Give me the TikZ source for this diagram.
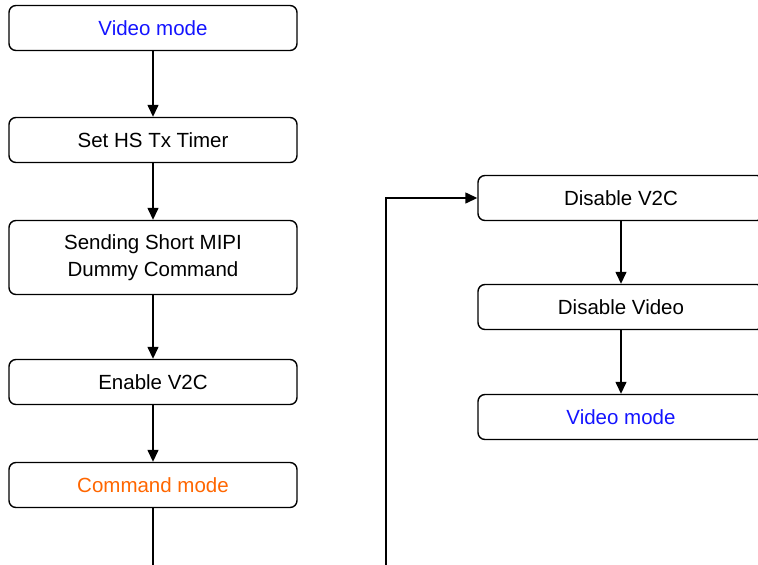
\documentclass[tikz,border=0pt]{standalone}
\usepackage{fontspec}
\setmainfont{Liberation Sans}
\usepackage{xcolor}
\usetikzlibrary{arrows.meta, positioning}
\definecolor{cmdorange}{RGB}{255,102,0}
\definecolor{vidblue}{RGB}{20,20,255}

\begin{document}
\begin{tikzpicture}[
  x=1pt, y=1pt,
  box/.style={rectangle, rounded corners=7pt, draw, line width=1.4pt, minimum width=288pt, minimum height=45pt, inner sep=0pt, align=center, font=\fontsize{20.5}{27}\selectfont},
  arrow/.style={-{Triangle[length=12pt, width=11pt]}, line width=1.4pt},
  line/.style={line width=1.4pt},
  node distance=56.6pt
]
\useasboundingbox (0,0) rectangle (758,-565);
\clip (0,0) rectangle (758,-565);
% left column
\node[box, text=vidblue] (vid) at (153,-28) {Video mode};
\node[box, below=65.6pt of vid] (timer) {Set HS Tx Timer};
\node[box, below=of timer, minimum height=74pt] (dummy) {Sending Short MIPI\\Dummy Command};
\node[box, below=63.6pt of dummy] (enable) {Enable V2C};
\node[box, below=of enable, text=cmdorange] (cmd) {Command mode};
% right column
\node[box, minimum width=286pt] (disv2c) at (621,-198) {Disable V2C};
\node[box, minimum width=286pt, below=62.6pt of disv2c] (disvid) {Disable Video};
\node[box, minimum width=286pt, below=63.6pt of disvid, text=vidblue] (vid2) {Video mode};
\coordinate (leftend) at (cmd.south |- 0,-570);
\coordinate (loop) at (386,-570);
\draw[arrow] (vid) -- (timer);
\draw[arrow] (timer) -- (dummy);
\draw[arrow] (dummy) -- (enable);
\draw[arrow] (enable) -- (cmd);
\draw[line] (cmd) -- (leftend);
\draw[arrow] (loop) |- (disv2c);
\draw[arrow] (disv2c) -- (disvid);
\draw[arrow] (disvid) -- (vid2);
\end{tikzpicture}
\end{document}
